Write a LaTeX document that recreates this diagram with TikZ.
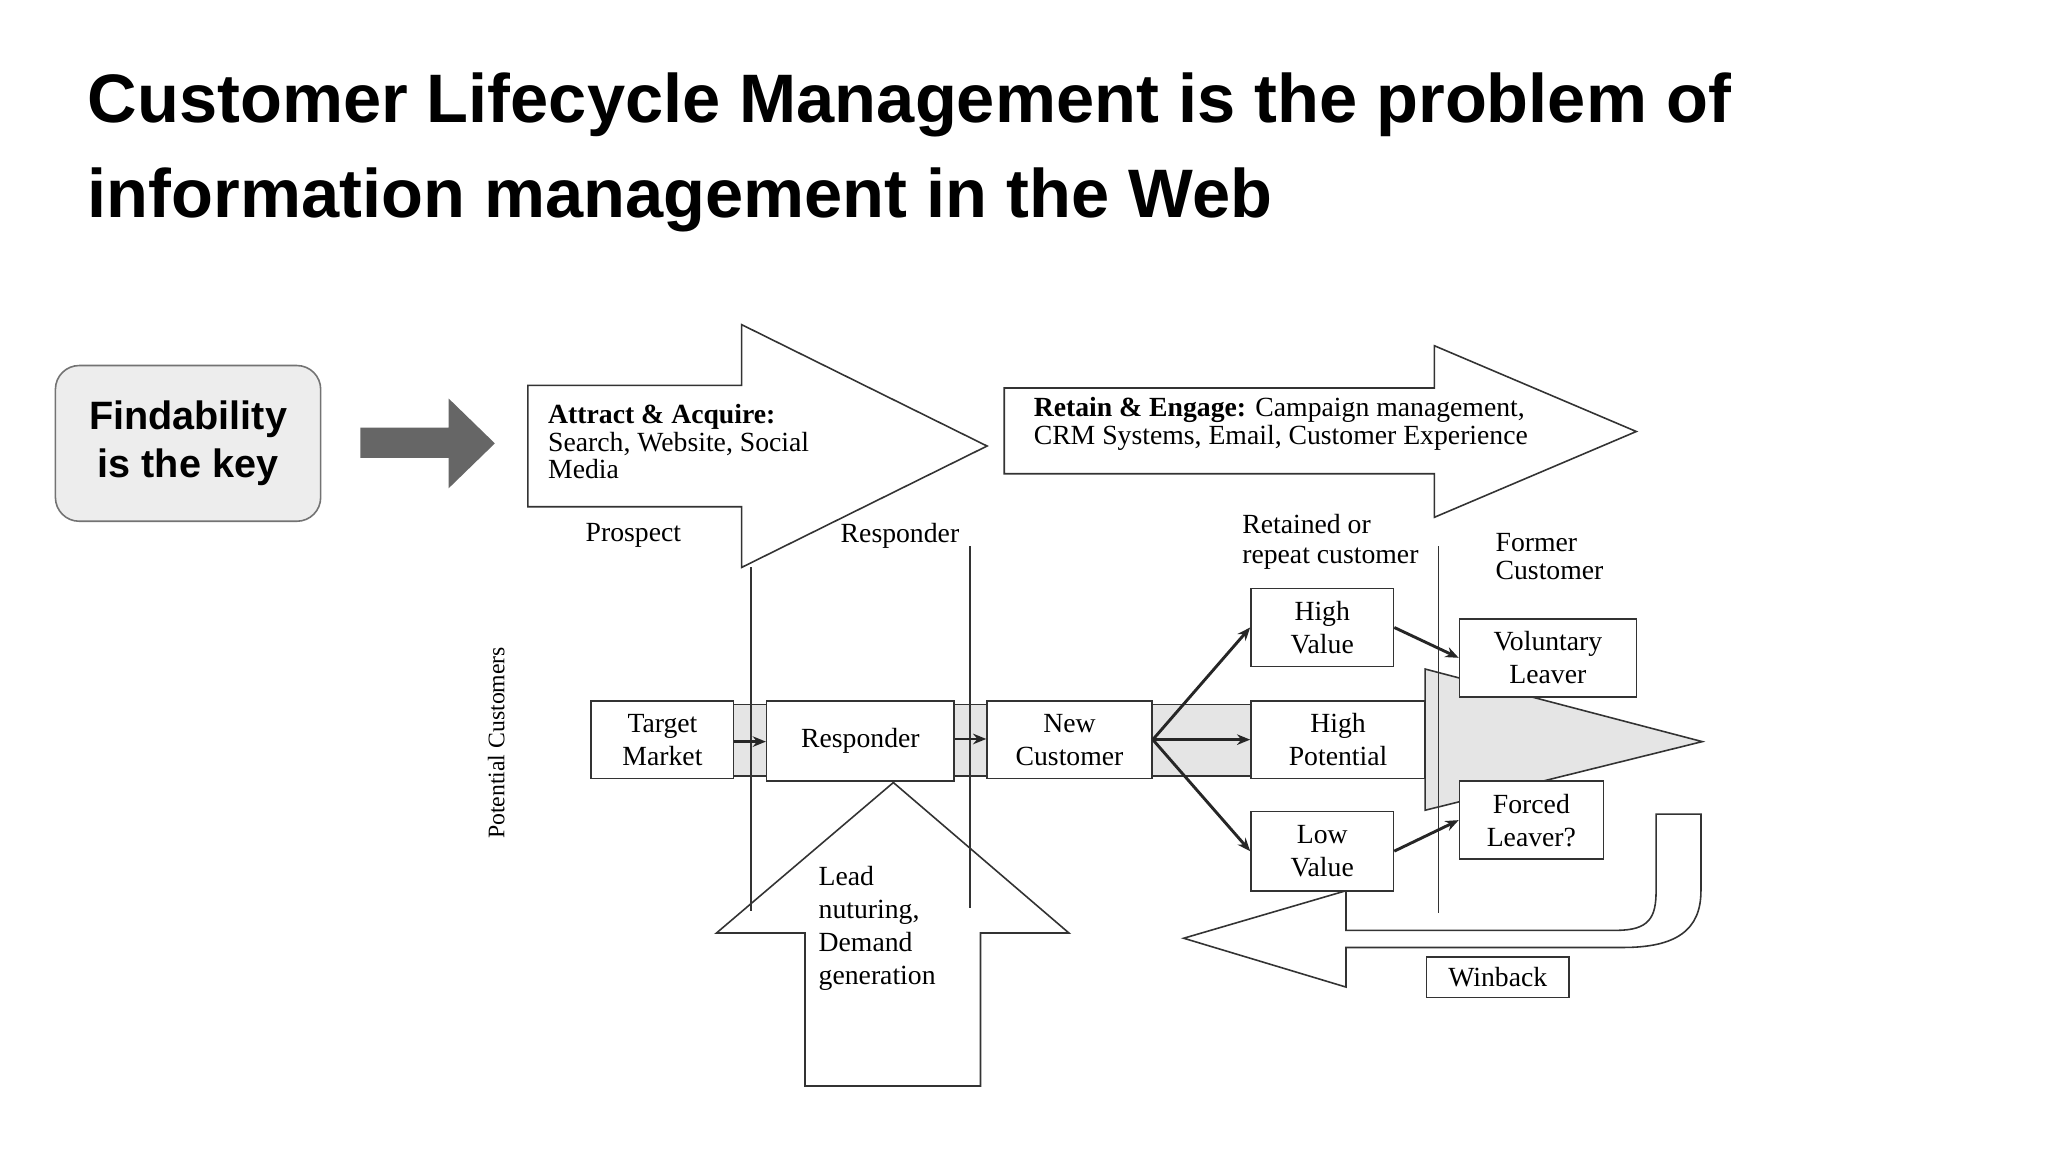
\documentclass[tikz,border=0pt]{standalone}
\usepackage{fontspec}
\setmainfont{Liberation Serif}
\newfontfamily\arialfont{Liberation Sans}
\usetikzlibrary{arrows.meta}
\begin{document}
\begin{tikzpicture}[x=0.5pt,y=-0.5pt,
  box/.style={draw=black!80,fill=white,line width=0.6pt,align=center,font=\fontsize{10.5}{12.5}\selectfont,inner sep=0pt},
  lbl/.style={font=\fontsize{10.5}{12.5}\selectfont,align=left,inner sep=0pt},
  conn/.style={-{Stealth[length=5pt,width=4pt]},line width=1.1pt,black!85},
  outline/.style={draw=black!80,line width=0.6pt},
  vline/.style={draw=black!80,line width=0.6pt}]
\useasboundingbox (0,0) rectangle (1552,873);
\fill[white] (0,0) rectangle (1552,873);
% title
\node[anchor=south west,inner sep=0pt,font=\arialfont\bfseries\fontsize{26}{30}\selectfont] (t1) at (66,104) {Customer Lifecycle Management is the problem of};
\node[anchor=south west,inner sep=0pt,font=\arialfont\bfseries\fontsize{26}{30}\selectfont] (t2) at (66,176) {information management in the Web};
% findability
\node[draw=black!55,fill=black!7,rounded corners=9pt,minimum width=100.5pt,minimum height=59pt,align=center,line width=0.6pt,font=\arialfont\bfseries\fontsize{15}{18}\selectfont] (find) at (142.5,336) {Findability\\is the key};
\fill[black!60] (273,324) -- (340,324) -- (340,302) -- (375,336) -- (340,370) -- (340,347) -- (273,347) -- cycle;
% attract arrow
\draw[outline,fill=white] (400,292) -- (562,292) -- (562,246) -- (748,338) -- (562,430) -- (562,384) -- (400,384) -- cycle;
\node[lbl,anchor=north west] (attract) at (415,306) {\textbf{Attract \& Acquire:}\\[-2pt]Search, Website, Social\\[-2pt]Media};
% retain arrow
\draw[outline,fill=white] (761,294) -- (1087,294) -- (1087,262) -- (1240,327) -- (1087,392) -- (1087,359) -- (761,359) -- cycle;
\node[lbl,anchor=north west] (retain) at (783,301) {\textbf{Retain \& Engage:} Campaign management,\\[-2pt]CRM Systems, Email, Customer Experience};
% stage labels
\node[lbl] (prospect) at (480,406) {Prospect};
\node[lbl] (respl) at (682,406) {Responder};
\node[lbl,anchor=north west] (retained) at (941,389) {Retained or\\[-1pt]repeat customer};
\node[lbl,anchor=north west] (former) at (1133,404) {Former\\[-2pt]Customer};
\node[rotate=90,font=\fontsize{9}{11}\selectfont,inner sep=0pt] (pot) at (376,563) {Potential Customers};
% band and big arrow
\draw[outline,fill=black!10] (556,534) rectangle (1080,588);
\draw[outline,fill=black!10] (1080,507) -- (1290,562) -- (1080,614) -- cycle;
% lead nurturing arrow
\draw[outline,fill=white] (610,823) -- (610,707) -- (543,707) -- (677,593) -- (810,707) -- (743,707) -- (743,823) -- cycle;
\node[lbl,anchor=north west] (lead) at (620,656) {Lead\\[0pt]nuturing,\\[0pt]Demand\\[0pt]generation};
% vertical lines
\draw[vline] (569,430) -- (569,690);
\draw[vline] (735,414) -- (735,688);
\draw[vline] (1090,414) -- (1090,692);
% winback arrow
\draw[outline,fill=white] (1020,675) -- (1020,705) -- (1225,705) .. controls (1250,705) and (1255,695) .. (1255,675) -- (1255,617) -- (1289,617) -- (1289,675) .. controls (1289,705) and (1270,718) .. (1230,718) -- (1020,718) -- (1020,748) -- (897,711) -- cycle;
% boxes
\node[box,minimum width=54pt,minimum height=29.5pt] (tm) at (502,560.5) {Target\\Market};
\node[box,minimum width=71pt,minimum height=30.5pt] (resp) at (652,561.5) {Responder};
\node[box,minimum width=62.5pt,minimum height=29.5pt] (nc) at (810.5,560.5) {New\\Customer};
\node[box,minimum width=54pt,minimum height=29.5pt] (hv) at (1002,475.5) {High\\Value};
\node[box,minimum width=66pt,minimum height=29.5pt] (hp) at (1014,560.5) {High\\Potential};
\node[box,minimum width=54pt,minimum height=30pt] (lv) at (1002,645) {Low\\Value};
\node[box,minimum width=67pt,minimum height=29.5pt] (vl) at (1173,498.5) {Voluntary\\Leaver};
\node[box,minimum width=54.5pt,minimum height=29.5pt] (fl) at (1160.5,621.5) {Forced\\Leaver?};
\node[box,minimum width=54pt,minimum height=15.5pt] (wb) at (1135,740.5) {Winback};
% connectors
\draw[conn] (tm.east |- 0,562) -- (resp.west |- 0,562);
\draw[conn] (resp.east |- 0,560) -- (nc.west |- 0,560);
\draw[conn] (nc.east) -- (hv.west);
\draw[conn] (nc.east) -- (hp.west);
\draw[conn] (nc.east) -- (lv.west);
\draw[conn] (hv.east) -- (vl.west);
\draw[conn] (lv.east) -- (fl.west);
\end{tikzpicture}
\end{document}
